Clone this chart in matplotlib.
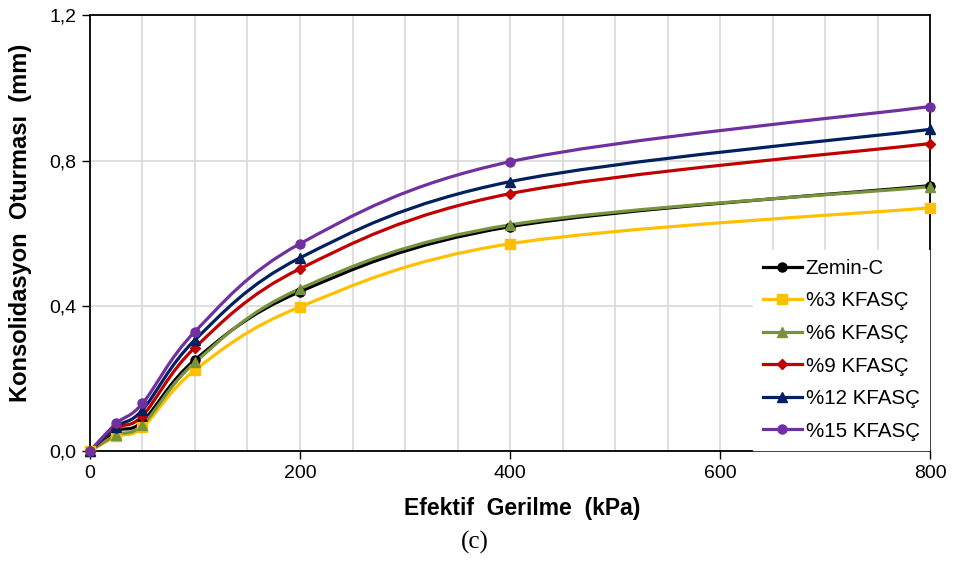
import matplotlib
matplotlib.use("Agg")
import matplotlib.pyplot as plt
from matplotlib.path import Path
from matplotlib.patches import PathPatch
from matplotlib.lines import Line2D
from matplotlib.ticker import FuncFormatter, MultipleLocator

plt.rcParams['font.family'] = ['Liberation Sans', 'DejaVu Sans']

gerilme = [0, 25, 50, 100, 200, 400, 800]
zemin_c = [0.0, 0.055, 0.081, 0.251, 0.439, 0.618, 0.731]
kfasc_3 = [0.0, 0.040, 0.065, 0.223, 0.397, 0.571, 0.670]
kfasc_6 = [0.0, 0.044, 0.072, 0.244, 0.447, 0.623, 0.728]
kfasc_9 = [0.0, 0.063, 0.097, 0.285, 0.502, 0.709, 0.847]
kfasc_12 = [0.0, 0.067, 0.113, 0.306, 0.532, 0.742, 0.886]
kfasc_15 = [0.0, 0.076, 0.131, 0.329, 0.571, 0.797, 0.949]

seriler = [
    ('Zemin-C', zemin_c, '#000000', 'o'),
    ('%3 KFASÇ', kfasc_3, '#FFC000', 's'),
    ('%6 KFASÇ', kfasc_6, '#77933C', '^'),
    ('%9 KFASÇ', kfasc_9, '#C00000', 'D'),
    ('%12 KFASÇ', kfasc_12, '#002060', '^'),
    ('%15 KFASÇ', kfasc_15, '#7030A0', 'o'),
]
msize = {'o': 6.5, 's': 6.5, '^': 7, 'D': 5}


def smooth_path(xs, ys):
    # Excel-style smoothed line: cubic Bezier segments through the points
    pts = list(zip(xs, ys))
    n = len(pts)
    verts = [pts[0]]
    codes = [Path.MOVETO]
    for i in range(n - 1):
        p0 = pts[i - 1] if i > 0 else pts[i]
        p1 = pts[i]
        p2 = pts[i + 1]
        p3 = pts[i + 2] if i + 2 < n else pts[i + 1]
        c1 = (p1[0] + (p2[0] - p0[0]) / 6, p1[1] + (p2[1] - p0[1]) / 6)
        c2 = (p2[0] - (p3[0] - p1[0]) / 6, p2[1] - (p3[1] - p1[1]) / 6)
        verts += [c1, c2, p2]
        codes += [Path.CURVE4] * 3
    return Path(verts, codes)


fig = plt.figure(figsize=(9.54, 5.63), dpi=100)
ax = fig.add_axes([0.0943, 0.199, 0.8807, 0.7736])

handles = []
for ad, deger, renk, mk in seriler:
    ax.add_patch(PathPatch(smooth_path(gerilme, deger), facecolor='none',
                           edgecolor=renk, lw=2.3, zorder=3))
    ax.plot(gerilme, deger, linestyle='none', marker=mk, color=renk,
            markersize=msize[mk], zorder=4, clip_on=False)
    handles.append(Line2D([], [], color=renk, lw=2.3, marker=mk,
                          markersize=msize[mk], label=ad))

ax.set_xlim(0, 800)
ax.set_ylim(0, 1.2)
ax.xaxis.set_major_locator(MultipleLocator(200))
ax.xaxis.set_minor_locator(MultipleLocator(50))
ax.yaxis.set_major_locator(MultipleLocator(0.4))
ax.yaxis.set_major_formatter(FuncFormatter(lambda v, p: f'{v:.1f}'.replace('.', ',')))
ax.grid(True, which='both', axis='x', color='#D9D9D9', lw=1.2, zorder=0)
ax.grid(True, which='major', axis='y', color='#D9D9D9', lw=1.2, zorder=0)
ax.tick_params(axis='both', which='major', direction='out', length=6, width=1,
               labelsize=14, pad=4)
ax.tick_params(axis='x', which='minor', length=0)
for s in ax.spines.values():
    s.set_linewidth(1.3)
    s.set_color('black')

ax.set_xlabel('Efektif  Gerilme  (kPa)', fontsize=16.5, fontweight='bold')
ax.set_ylabel('Konsolidasyon  Oturması  (mm)', fontsize=17, fontweight='bold')
ax.xaxis.set_label_coords(0.514, -0.105)
ax.yaxis.set_label_coords(-0.069, 0.523)

leg = ax.legend(handles=handles, loc='lower right', fontsize=14.8, frameon=True,
                fancybox=False, edgecolor='white', framealpha=1,
                handlelength=1.9, labelspacing=0.66, borderaxespad=0.05,
                handletextpad=0.2, borderpad=0.45)
leg.set_zorder(5)

fig.text(0.498, 0.0373, '(c)', fontsize=18, family='Liberation Serif',
         ha='center', va='center')

fig.savefig('out.png', dpi=100)
